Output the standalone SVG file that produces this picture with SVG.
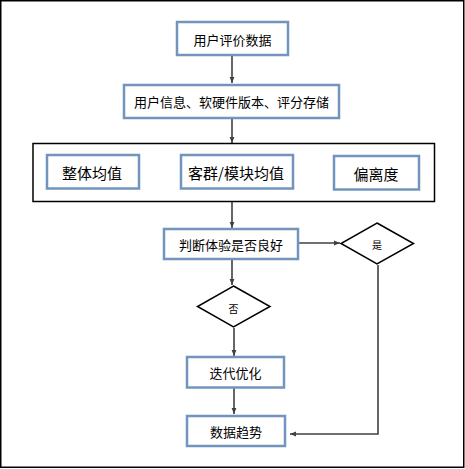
<svg xmlns="http://www.w3.org/2000/svg" width="465" height="469" viewBox="0 0 465 469">
<style>
.box{fill:#fff;stroke:#7295BD;stroke-width:2.5}
.dia{fill:#fff;stroke:#000;stroke-width:1.5}
.t{font-family:"Noto Sans CJK SC","Liberation Sans",sans-serif;fill:#000;text-anchor:middle;dominant-baseline:central}
.c{fill:none;stroke:#404040;stroke-width:1.6}
</style>
<defs>
<marker id="ah" viewBox="0 0 10 10" refX="10" refY="5" markerWidth="6" markerHeight="6" orient="auto" markerUnits="userSpaceOnUse">
<path d="M0,1 L10,5 L0,9 Z" fill="#404040"/>
</marker>
</defs>
<rect x="0.75" y="0.75" width="463" height="466.5" fill="#fff" stroke="#000" stroke-width="1.5"/>
<g id="connectors">
<line class="c" x1="232" y1="56" x2="232" y2="83" marker-end="url(#ah)"/>
<line class="c" x1="232" y1="119" x2="232" y2="143" marker-end="url(#ah)"/>
<line class="c" x1="232" y1="202" x2="232" y2="228" marker-end="url(#ah)"/>
<line class="c" x1="299" y1="243" x2="340" y2="243" marker-end="url(#ah)"/>
<line class="c" x1="232" y1="260" x2="232" y2="285" marker-end="url(#ah)"/>
<line class="c" x1="234" y1="328" x2="234" y2="356" marker-end="url(#ah)"/>
<line class="c" x1="234" y1="388" x2="234" y2="414" marker-end="url(#ah)"/>
<polyline class="c" points="378,265 378,434 290,434" marker-end="url(#ah)"/>
</g>
<g id="n1"><rect class="box" x="177" y="22" width="111" height="33"/><text class="t" x="232.5" y="39" font-size="13">用户评价数据</text></g>
<g id="n2"><rect class="box" x="124" y="85" width="215" height="33"/><text class="t" x="231.5" y="101.5" font-size="13">用户信息、软硬件版本、评分存储</text></g>
<g id="group"><rect x="33" y="143.5" width="401.5" height="58" fill="none" stroke="#000" stroke-width="1.5"/></g>
<g id="n3"><rect class="box" x="47" y="155" width="92" height="33.5"/><text class="t" x="92" y="172" font-size="15">整体均值</text></g>
<g id="n4"><rect class="box" x="181" y="155" width="112" height="33.5"/><text class="t" x="236" y="172" font-size="15">客群/模块均值</text></g>
<g id="n5"><rect class="box" x="334" y="156" width="85" height="33.5"/><text class="t" x="376" y="173" font-size="15">偏离度</text></g>
<g id="n6"><rect class="box" x="164" y="229" width="134" height="30"/><text class="t" x="231" y="244" font-size="13">判断体验是否良好</text></g>
<g id="n7"><polygon class="dia" points="377,223 413.5,243.5 377,264 341,243.5"/><text class="t" x="377" y="244" font-size="10">是</text></g>
<g id="n8"><polygon class="dia" points="233.5,286 270,306.5 233.5,327 197.5,306.5"/><text class="t" x="233.5" y="308" font-size="10">否</text></g>
<g id="n9"><rect class="box" x="187" y="357" width="97" height="30.5"/><text class="t" x="235.5" y="372" font-size="13">迭代优化</text></g>
<g id="n10"><rect class="box" x="187" y="416" width="98" height="30"/><text class="t" x="236" y="431" font-size="13">数据趋势</text></g>
</svg>
